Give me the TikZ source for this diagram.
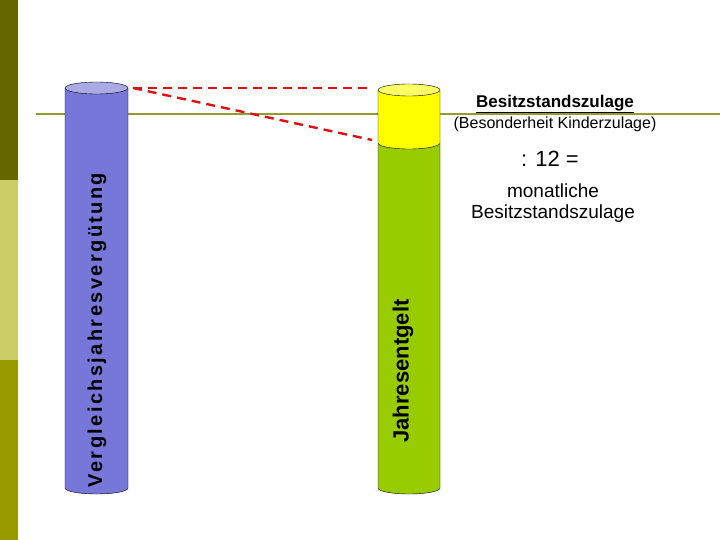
\documentclass[tikz,border=0pt]{standalone}
\usepackage{fontspec}
\setmainfont{Liberation Sans}
\newfontfamily\widesans[LetterSpace=12]{Liberation Sans}
\definecolor{olivedrk}{HTML}{666600}
\definecolor{olivelgt}{HTML}{CCCC66}
\definecolor{olivemid}{HTML}{999900}
\definecolor{lineol}{HTML}{999933}
\definecolor{cylblue}{HTML}{7777D9}
\definecolor{cyltop}{HTML}{AAAAE6}
\definecolor{cylyel}{HTML}{FFFF00}
\definecolor{cylyeltop}{HTML}{FFFF66}
\definecolor{cylgrn}{HTML}{99CC00}
\definecolor{dashred}{HTML}{DD1111}
\tikzset{
  cylside/.style={draw=black, thin},
  ratio/.style={dashred, line width=2.4pt, dash pattern=on 9pt off 6pt},
}
\begin{document}
\begin{tikzpicture}[x=1pt, y=-1pt]
	\useasboundingbox (0,0) rectangle (720,540);
	% left stripe
	\fill[olivedrk] (0,0) rectangle (18,180);
	\fill[olivelgt] (0,180) rectangle (18,360);
	\fill[olivemid] (0,360) rectangle (18,540);
	\draw[lineol, line width=2.5pt] (36,114) -- (720,114);

	% blue cylinder
	\filldraw[cylside, fill=cylblue] (65,88) -- (65,488) arc[start angle=180, end angle=0, x radius=31.5, y radius=6] -- (128,88) -- cycle;
	\filldraw[cylside, fill=cyltop] (96.5,88) ellipse[x radius=31.5, y radius=6];
	% green / yellow cylinder
	\filldraw[cylside, fill=cylgrn] (378,143) -- (378,488) arc[start angle=180, end angle=0, x radius=31, y radius=6] -- (440,143) -- cycle;
	\filldraw[cylside, fill=cylyel] (378,90) -- (378,143) arc[start angle=180, end angle=0, x radius=31, y radius=6] -- (440,90) -- cycle;
	\filldraw[cylside, fill=cylyeltop] (409,90) ellipse[x radius=31, y radius=6];

	\coordinate (vtop) at (133,88);
	\coordinate (jtop) at (372,88);
	\coordinate (jcut) at (372,140);
	\draw[ratio] (vtop) -- (jtop);
	\draw[ratio] (vtop) -- (jcut);

	\node[rotate=90, font=\widesans\bfseries\fontsize{20}{24}\selectfont] (vjv) at (97,330) {Vergleichsjahresvergütung};
	\node[rotate=90, font=\bfseries\fontsize{22}{26}\selectfont] (jeg) at (403,371) {Jahresentgelt};

	\node[font=\bfseries\fontsize{17}{20}\selectfont] (bsz) at (555,104) {\underline{Besitzstandszulage}};
	\node[font=\fontsize{16}{19}\selectfont] (kdz) at (555,124) {(Besonderheit Kinderzulage)};
	\node[font=\fontsize{22}{26}\selectfont] (div) at (550,159) {: 12 =};
	\node[font=\fontsize{19}{21}\selectfont, align=center] (mbz) at (553,203) {monatliche\\Besitzstandszulage};
\end{tikzpicture}
\end{document}
